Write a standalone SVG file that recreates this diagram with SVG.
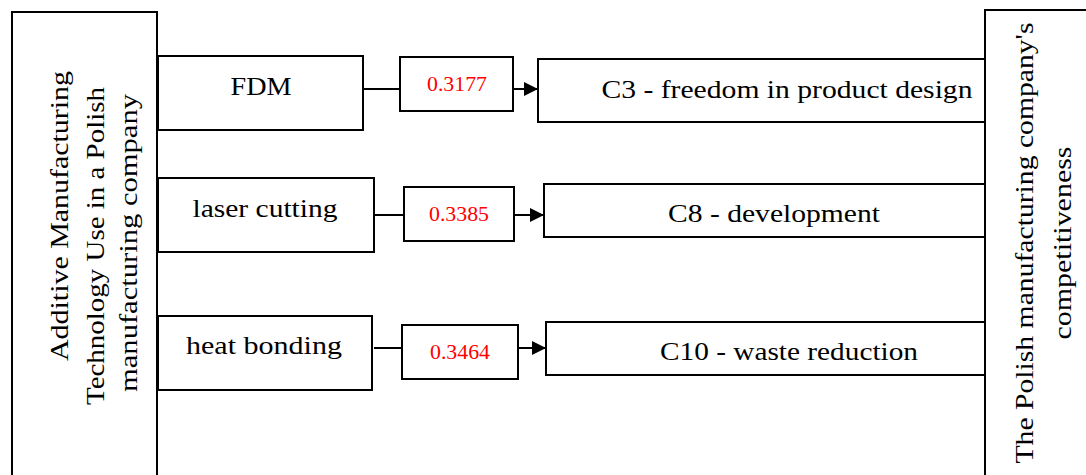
<svg xmlns="http://www.w3.org/2000/svg" width="1086" height="475" viewBox="0 0 1086 475">
<style>
.box{fill:#fff;stroke:#000;stroke-width:2}
.t{font-family:"Liberation Serif","Times New Roman",serif;font-size:26px;fill:#000;text-anchor:middle}
.v{font-family:"Liberation Serif","Times New Roman",serif;font-size:21px;fill:#ff0000;text-anchor:middle}
.c{stroke:#000;stroke-width:2;fill:none}
</style>
<defs>
<marker id="ah" viewBox="0 0 10 10" refX="10" refY="5" markerWidth="14" markerHeight="14" markerUnits="userSpaceOnUse" orient="auto">
<path d="M0,0 L10,5 L0,10 Z" fill="#000"/>
</marker>
</defs>
<g id="left">
<rect class="box" x="12" y="12" width="145" height="470"/>
<text class="t" transform="translate(68,216) rotate(-90)" textLength="290" lengthAdjust="spacingAndGlyphs">Additive Manufacturing</text>
<text class="t" transform="translate(104,246) rotate(-90)" textLength="318" lengthAdjust="spacingAndGlyphs">Technology Use in a Polish</text>
<text class="t" transform="translate(137,243) rotate(-90)" textLength="298" lengthAdjust="spacingAndGlyphs">manufacturing company</text>
</g>
<g id="right">
<rect class="box" x="985" y="10" width="110" height="472"/>
<text class="t" transform="translate(1033,243) rotate(-90)" textLength="441" lengthAdjust="spacingAndGlyphs">The Polish manufacturing company's</text>
<text class="t" transform="translate(1071,243) rotate(-90)" textLength="193" lengthAdjust="spacingAndGlyphs">competitiveness</text>
</g>
<g id="fdm">
<rect class="box" x="158" y="56" width="205" height="74"/>
<text class="t" x="261" y="95" textLength="61" lengthAdjust="spacingAndGlyphs">FDM</text>
</g>
<g id="laser">
<rect class="box" x="158" y="178" width="216" height="74"/>
<text class="t" x="265" y="217" textLength="145" lengthAdjust="spacingAndGlyphs">laser cutting</text>
</g>
<g id="heat">
<rect class="box" x="158" y="316" width="214" height="74"/>
<text class="t" x="264" y="354" textLength="156" lengthAdjust="spacingAndGlyphs">heat bonding</text>
</g>
<g id="v1">
<rect class="box" x="400" y="57" width="113" height="54"/>
<text class="v" x="457" y="91" textLength="60" lengthAdjust="spacingAndGlyphs">0.3177</text>
</g>
<g id="v2">
<rect class="box" x="404" y="187" width="110" height="54"/>
<text class="v" x="459" y="221" textLength="60" lengthAdjust="spacingAndGlyphs">0.3385</text>
</g>
<g id="v3">
<rect class="box" x="402" y="325" width="116" height="54"/>
<text class="v" x="460" y="359" textLength="60" lengthAdjust="spacingAndGlyphs">0.3464</text>
</g>
<g id="c3">
<rect class="box" x="538" y="59" width="447" height="63"/>
<text class="t" x="787" y="98" textLength="371" lengthAdjust="spacingAndGlyphs">C3 - freedom in product design</text>
</g>
<g id="c8">
<rect class="box" x="544" y="184" width="441" height="53"/>
<text class="t" x="774" y="222" textLength="212" lengthAdjust="spacingAndGlyphs">C8 - development</text>
</g>
<g id="c10">
<rect class="box" x="546" y="322" width="439" height="53"/>
<text class="t" x="789" y="360" textLength="258" lengthAdjust="spacingAndGlyphs">C10 - waste reduction</text>
</g>
<g id="connectors">
<line class="c" x1="363" y1="89" x2="400" y2="89"/>
<line class="c" x1="513" y1="89" x2="538" y2="89" marker-end="url(#ah)"/>
<line class="c" x1="374" y1="215" x2="404" y2="215"/>
<line class="c" x1="514" y1="215" x2="544" y2="215" marker-end="url(#ah)"/>
<line class="c" x1="374" y1="348" x2="402" y2="348"/>
<line class="c" x1="518" y1="348" x2="546" y2="348" marker-end="url(#ah)"/>
</g>
</svg>
